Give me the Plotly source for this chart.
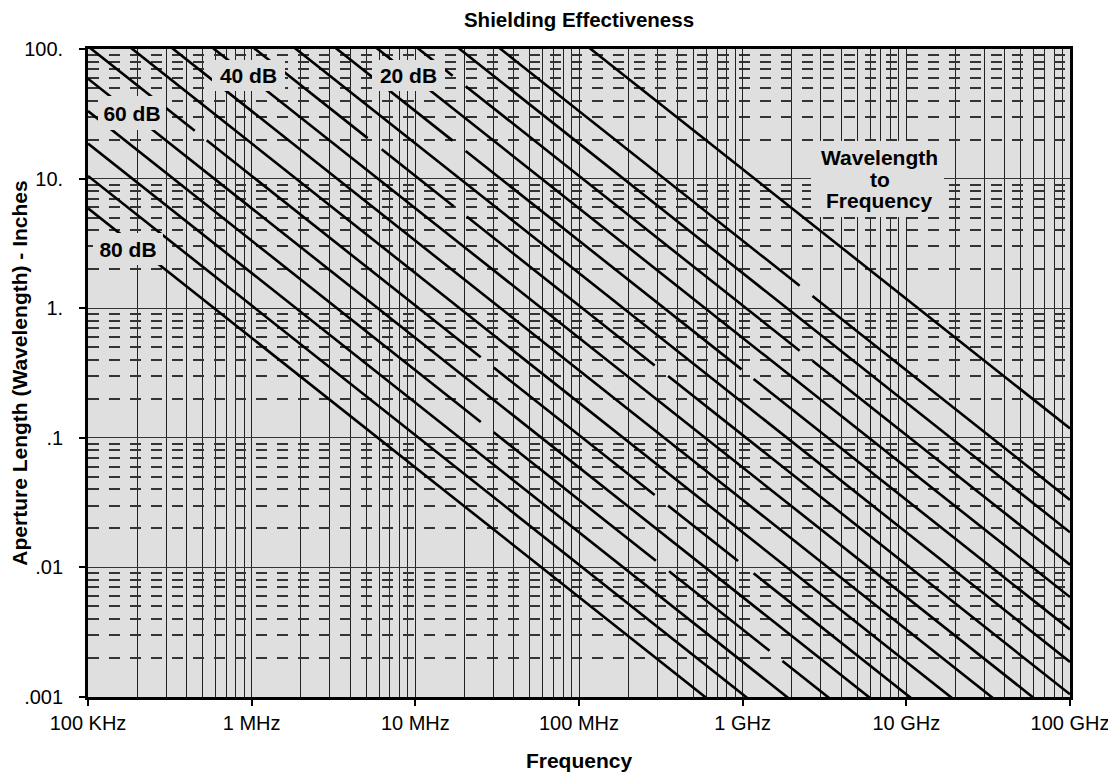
import math
import plotly.graph_objects as go

# ---------------- data ----------------
freq_tick_hz = [1e5, 1e6, 1e7, 1e8, 1e9, 1e10, 1e11]
freq_tick_text = ["100 KHz", "1 MHz", "10 MHz", "100 MHz", "1 GHz", "10 GHz", "100 GHz"]
length_tick_in = [0.001, 0.01, 0.1, 1, 10, 100]
length_tick_text = [".001", ".01", ".1", "1.", "10.", "100."]

curve_names = ["Wavelength", "5 dB", "10 dB", "15 dB", "20 dB", "25 dB", "30 dB",
               "35 dB", "40 dB", "45 dB", "50 dB", "55 dB", "60 dB", "65 dB",
               "70 dB", "75 dB", "80 dB"]

# points of each diagonal (frequency Hz, aperture length inches);
# None marks a break that is visible in the reference drawing
curve_freq_hz = [
    [1e5, 1e11],
    [1e5, 2.23e9, None, 2.67e9, 1e11],
    [1e5, 1e11],
    [1e5, 1.69e7, None, 2.03e7, 2.23e9, None, 2.67e9, 1e11],
    [1e5, 1e11],
    [1e5, 1.69e7, None, 2.03e7, 9.84e8, None, 1.166e9, 1e11],
    [1e5, 1e11],
    [1e5, 5.11e6, None, 6.23e6, 1.72e7, None, 2.06e7, 2.90e8, None, 3.50e8, 1e11],
    [1e5, 1e11],
    [1e5, 1e11],
    [1e5, 1e11],
    [1e5, 4.49e5, None, 5.31e5, 2.51e7, None, 3.01e7, 2.90e8, None, 3.50e8,
     9.37e8, None, 1.166e9, 1e11],
    [1e5, 1e11],
    [1e5, 2.51e7, None, 3.01e7, 2.95e8, None, 3.55e8, 1.46e9, None, 1.75e9, 1e11],
    [1e5, 1e11],
    [1e5, 1e11],
    [1e5, 1e11],
]
curve_len_in = [
    [118000, 0.118],
    [33200, 1.489, None, 1.243, 0.0332],
    [18660, 0.01866],
    [10490, 62.07, None, 51.67, 0.4704, None, 0.3929, 0.01049],
    [5900, 0.0059],
    [3318, 19.63, None, 16.34, 0.3372, None, 0.2846, 0.003318],
    [1866, 0.001866],
    [1049, 20.53, None, 16.84, 6.099, None, 5.092, 0.3617, None, 0.2997, 0.001049],
    [590, 0.00059],
    [331.8, 3.318e-4],
    [186.6, 1.866e-4],
    [104.9, 23.36, None, 19.75, 0.4179, None, 0.3485, 0.03617, None, 0.02997,
     0.011195, None, 0.008997, 1.049e-4],
    [59.0, 5.9e-5],
    [33.18, 0.13219, None, 0.11023, 0.011247, None, 0.009346, 0.0022726, None,
     0.001896, 3.318e-5],
    [18.66, 1.866e-5],
    [10.49, 1.049e-5],
    [5.90, 5.9e-6],
]

# in-chart labels (centre of each label box)
label_text = ["20 dB", "40 dB", "60 dB", "80 dB"]
label_freq_hz = [9.07e6, 9.56e5, 1.85e5, 1.755e5]
label_len_in = [62.3, 62.3, 32.0, 2.86]

note_lines = ["Wavelength", "to", "Frequency"]
note_freq_hz = 6.71e9
note_len_in = 9.91

# ---------------- figure ----------------
BG = "#dfdfdf"
FONT = "Liberation Sans, Arial, Helvetica, sans-serif"

fig = go.Figure()
for name, xs, ys in zip(curve_names, curve_freq_hz, curve_len_in):
    fig.add_trace(go.Scatter(
        x=xs, y=ys, mode="lines", name=name, connectgaps=False,
        line=dict(color="black", width=2.6),
        hoverinfo="skip", showlegend=False))

x_minor = [m * 10 ** e for e in range(5, 11) for m in range(2, 10)]
y_minor = [m * 10.0 ** e for e in range(-3, 2) for m in range(2, 10)]

fig.update_xaxes(
    type="log", range=[5, 11], tickmode="array", tickvals=freq_tick_hz,
    ticktext=freq_tick_text, ticks="outside", ticklen=6, tickwidth=1.5,
    tickcolor="black", showline=True, linewidth=2.8, linecolor="black",
    mirror=True, showgrid=True, gridcolor="#222222", gridwidth=1.3, zeroline=False,
    minor=dict(tickmode="array", tickvals=x_minor, showgrid=True,
               gridcolor="#222222", gridwidth=1.3, ticks=""),
    tickfont=dict(size=20), ticklabeloverflow="allow",
    title=dict(text="<b>Frequency</b>", font=dict(size=21), standoff=26),
)
fig.update_yaxes(
    type="log", range=[-3, 2], tickmode="array", tickvals=length_tick_in,
    ticktext=length_tick_text, ticks="outside", ticklen=6, tickwidth=1.5,
    tickcolor="black", showline=True, linewidth=2.8, linecolor="black",
    mirror=True, showgrid=True, gridcolor="#333333", gridwidth=1.3, zeroline=False,
    minor=dict(tickmode="array", tickvals=y_minor, showgrid=True,
               gridcolor="#333333", gridwidth=1.5, griddash="11px,10px", ticks=""),
    tickfont=dict(size=20), ticklabelstandoff=12,
    title=dict(text="<b>Aperture Length (Wavelength) - Inches</b>",
               font=dict(size=21), standoff=2),
)

label_box_w = [73, 73, 68, 70]
label_box_h = [31, 31, 34, 32]
annotations = []
for t, f, L, w, h in zip(label_text, label_freq_hz, label_len_in, label_box_w, label_box_h):
    annotations.append(dict(
        x=math.log10(f), y=math.log10(L), xref="x", yref="y", text="<b>%s</b>" % t,
        showarrow=False, bgcolor=BG, borderpad=0, borderwidth=0, width=w, height=h,
        font=dict(size=21, family=FONT, color="black")))

# background box for the wavelength note
annotations.append(dict(
    x=math.log10(note_freq_hz), y=math.log10(note_len_in), xref="x", yref="y",
    text=" ", showarrow=False, bgcolor=BG, borderpad=0, borderwidth=0,
    width=133, height=76, font=dict(size=10)))
for i, t in enumerate(note_lines):
    annotations.append(dict(
        x=math.log10(note_freq_hz), y=math.log10(note_len_in), xref="x", yref="y",
        text="<b>%s</b>" % t, showarrow=False, yshift=21.7 * (1 - i), xshift=2,
        font=dict(size=21, family=FONT, color="black")))

# page body adds an 8px offset; figure fills the rest of the 1116x772 window
fig.update_layout(
    width=1108, height=764,
    margin=dict(l=80, r=46, t=41, b=75, autoexpand=False),
    paper_bgcolor="white", plot_bgcolor=BG, showlegend=False,
    font=dict(family=FONT, size=20, color="black"),
    title=dict(text="<b>Shielding Effectiveness</b>", x=0.5, xref="paper",
               xanchor="center", y=1 - 12 / 764, yref="container",
               yanchor="middle", font=dict(size=20.5)),
    annotations=annotations,
)

fig.write_html("out.html")
